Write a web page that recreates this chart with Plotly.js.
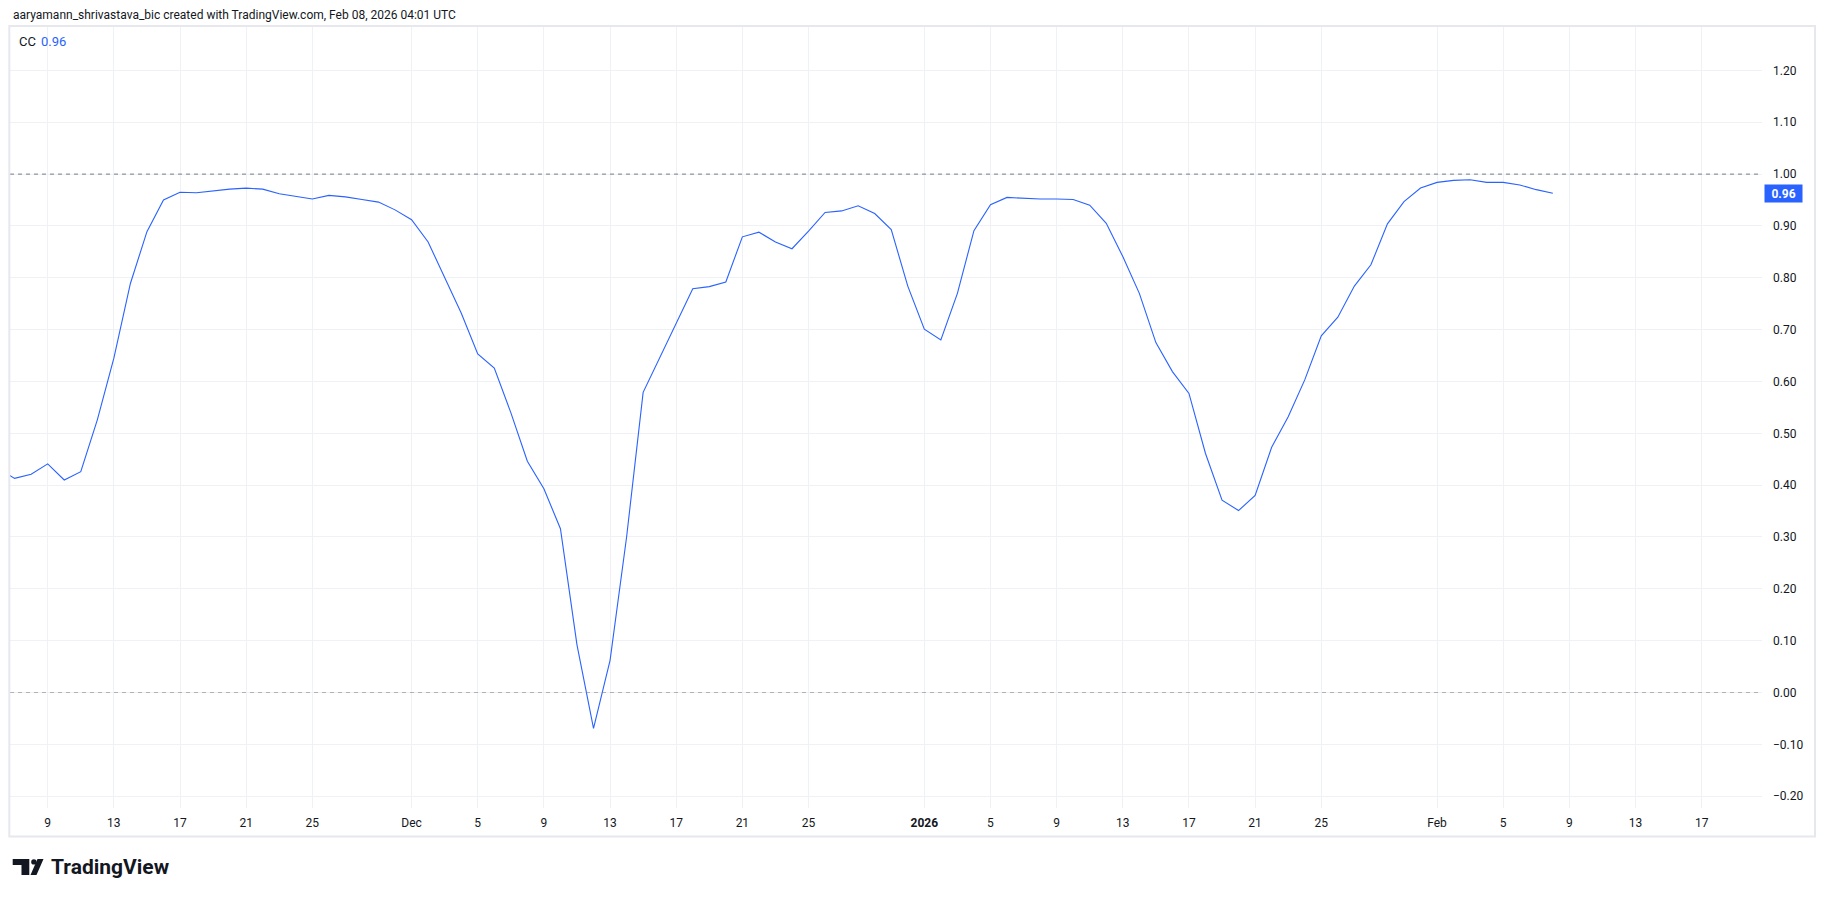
<!DOCTYPE html>
<html>
<head>
<meta charset="utf-8">
<script src="https://cdn.plot.ly/plotly-3.0.1.min.js"></script>
<style>
  html, body { margin: 0; padding: 0; background: #ffffff; }
  #chart { width: 1825px; height: 897px; }
</style>
</head>
<body>
<div id="chart"></div>
<script>
// ---------------- DATA ----------------
const seriesName = "CC";
const firstDate = "2025-11-06";   // first daily bar (consecutive daily bars follow)
const ccValues = [
  0.432, 0.413, 0.421, 0.441, 0.410, 0.426, 0.526, 0.645, 0.789, 0.889,   // Nov 6 - Nov 15
  0.950, 0.965, 0.964, 0.968, 0.971, 0.973, 0.971, 0.962, 0.957, 0.952,   // Nov 16 - Nov 25
  0.959, 0.956, 0.951, 0.946, 0.931,                                      // Nov 26 - Nov 30
  0.912, 0.869, 0.800, 0.732, 0.653, 0.626, 0.540, 0.446, 0.393, 0.316,   // Dec 1 - Dec 10
  0.092, -0.069, 0.062, 0.300, 0.579, 0.645, 0.712, 0.779, 0.783, 0.792,  // Dec 11 - Dec 20
  0.879, 0.888, 0.869, 0.856, 0.890, 0.926, 0.929, 0.939, 0.924, 0.893,   // Dec 21 - Dec 30
  0.784,                                                                  // Dec 31
  0.701, 0.680, 0.770, 0.891, 0.941, 0.955, 0.953, 0.952, 0.952, 0.951,   // Jan 1 - Jan 10
  0.940, 0.905, 0.841, 0.770, 0.675, 0.619, 0.577, 0.461, 0.371, 0.351,   // Jan 11 - Jan 20
  0.380, 0.473, 0.532, 0.603, 0.688, 0.724, 0.784, 0.825, 0.904, 0.947,   // Jan 21 - Jan 30
  0.973,                                                                  // Jan 31
  0.984, 0.988, 0.989, 0.984, 0.984, 0.979, 0.970, 0.963                  // Feb 1 - Feb 8
];
const levelLines = [1.00, 0.00];
const xTickDates = [
  "2025-11-09","2025-11-13","2025-11-17","2025-11-21","2025-11-25",
  "2025-12-01","2025-12-05","2025-12-09","2025-12-13","2025-12-17","2025-12-21","2025-12-25",
  "2026-01-01","2026-01-05","2026-01-09","2026-01-13","2026-01-17","2026-01-21","2026-01-25",
  "2026-02-01","2026-02-05","2026-02-09","2026-02-13","2026-02-17"
];
const xTickLabels = [
  "9","13","17","21","25",
  "Dec","5","9","13","17","21","25",
  "<b>2026</b>","5","9","13","17","21","25",
  "Feb","5","9","13","17"
];
const yTickVals = [-0.2,-0.1,0,0.1,0.2,0.3,0.4,0.5,0.6,0.7,0.8,0.9,1.0,1.1,1.2];
const headerText = "aaryamann_shrivastava_bic created with TradingView.com, Feb 08, 2026 04:01 UTC";

// ---------------- BUILD ----------------
const dates = [];
{
  const d0 = new Date(firstDate + "T00:00:00Z");
  for (let i = 0; i < ccValues.length; i++) {
    const d = new Date(d0.getTime() + i * 86400000);
    dates.push(d.toISOString().slice(0, 10));
  }
}
const lastVal = ccValues[ccValues.length - 1];

const W = 1825, H = 897;
const M = { l: 10, r: 63, t: 26, b: 89 };
const PW = W - M.l - M.r, PH = H - M.t - M.b;
const px = x => (x - M.l) / PW;
const py = y => (H - M.b - y) / PH;
const P = (x, y) => px(x).toFixed(5) + "," + py(y).toFixed(5);

const FONT = 'Roboto, "Open Sans", sans-serif';
const TXT = "#131722";
const BLUE = "#2962ff";

const trace = {
  x: dates,
  y: ccValues,
  type: "scatter",
  mode: "lines",
  line: { color: BLUE, width: 1.1 },
  hoverinfo: "skip",
  showlegend: false
};

const shapes = [
  // level lines
  { type: "line", xref: "paper", yref: "y", x0: 0, x1: 1, y0: levelLines[0], y1: levelLines[0],
    line: { color: "#787b86", width: 1, dash: "4px,4px" } },
  { type: "line", xref: "paper", yref: "y", x0: 0, x1: 1, y0: levelLines[1], y1: levelLines[1],
    line: { color: "rgba(120,123,134,0.55)", width: 1, dash: "4px,4px" } },
  // frame
  { type: "rect", xref: "paper", yref: "paper",
    x0: px(9.3), x1: px(1815), y0: py(836.5), y1: py(26),
    line: { color: "#e6e8ee", width: 2 }, fillcolor: "rgba(0,0,0,0)", layer: "above" },
  // TradingView logo icon
  { type: "path", xref: "paper", yref: "paper",
    path: "M" + P(12.7, 859) + " L" + P(29.3, 859) + " L" + P(29.3, 875) + " L" + P(21.5, 875) +
          " L" + P(21.5, 865) + " L" + P(12.7, 865) + " Z",
    fillcolor: "#131722", line: { width: 0 } },
  { type: "circle", xref: "paper", yref: "paper",
    x0: px(31.2), x1: px(36.6), y0: py(864.6), y1: py(859.2),
    fillcolor: "#131722", line: { width: 0 } },
  { type: "path", xref: "paper", yref: "paper",
    path: "M" + P(37.5, 859) + " L" + P(43.5, 859) + " L" + P(36.5, 875) + " L" + P(30.5, 875) + " Z",
    fillcolor: "#131722", line: { width: 0 } }
];

const annotations = [
  { xref: "paper", yref: "paper", x: px(10.5), y: py(15), xanchor: "left", yanchor: "middle",
    text: headerText, showarrow: false, font: { family: FONT, size: 12, color: TXT } },
  { xref: "paper", yref: "paper", x: px(17), y: py(41.5), xanchor: "left", yanchor: "middle",
    text: seriesName, showarrow: false, font: { family: FONT, size: 13, color: TXT } },
  { xref: "paper", yref: "paper", x: px(39), y: py(41.5), xanchor: "left", yanchor: "middle",
    text: lastVal.toFixed(2), showarrow: false, font: { family: FONT, size: 13, color: BLUE } },
  { xref: "paper", yref: "y", x: px(1764), y: lastVal, xanchor: "left", yanchor: "middle",
    text: "<b>" + lastVal.toFixed(2) + "</b>", showarrow: false,
    bgcolor: BLUE, borderpad: 2, width: 33, height: 13,
    font: { family: FONT, size: 12, color: "#ffffff" } },
  { xref: "paper", yref: "paper", x: px(49), y: py(867), xanchor: "left", yanchor: "middle",
    text: "TradingView", showarrow: false,
    font: { family: FONT, size: 21, color: "#131722", weight: 700 } }
];

// x range from plot pixel edges (10 .. 1762): Nov 9 at px 47.7, 16.54 px per day
const dayMs = 86400000;
const nov9 = Date.UTC(2025, 10, 9);
const xLeft = new Date(nov9 + ((M.l - 47.7) / 16.54) * dayMs).toISOString();
const xRight = new Date(nov9 + ((W - M.r - 47.7) / 16.54) * dayMs).toISOString();

const layout = {
  width: W, height: H,
  margin: { l: M.l, r: M.r, t: M.t, b: M.b, pad: 0 },
  paper_bgcolor: "#ffffff",
  plot_bgcolor: "#ffffff",
  showlegend: false,
  xaxis: {
    type: "date",
    range: [xLeft, xRight],
    tickmode: "array",
    tickvals: xTickDates,
    ticktext: xTickLabels,
    showgrid: true, gridcolor: "#f0f1f4", gridwidth: 1,
    zeroline: false, showline: false, ticks: "",
    ticklabelstandoff: 6,
    tickfont: { family: FONT, size: 12, color: TXT },
    fixedrange: true
  },
  yaxis: {
    side: "right",
    range: [-0.2228, 1.2857],
    tickmode: "array",
    tickvals: yTickVals,
    tickformat: ".2f",
    showgrid: true, gridcolor: "#f0f1f4", gridwidth: 1,
    zeroline: false, showline: false, ticks: "",
    ticklabelstandoff: 10,
    tickfont: { family: FONT, size: 12, color: TXT },
    fixedrange: true
  },
  shapes: shapes,
  annotations: annotations
};

Plotly.newPlot("chart", [trace], layout, { staticPlot: true, displayModeBar: false });
</script>
</body>
</html>
